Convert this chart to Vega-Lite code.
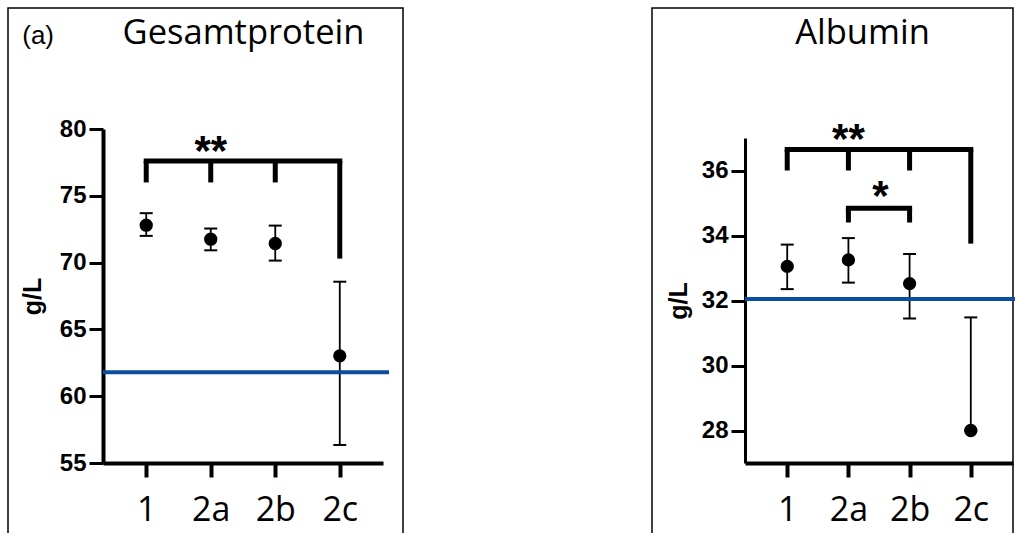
{
  "$schema": "https://vega.github.io/schema/vega-lite/v6.json",
  "background": "white",
  "padding": {"left": 7, "top": 7, "right": 0, "bottom": 0},
  "autosize": {"type": "pad"},
  "spacing": 247,
  "title": {"text": "(a)", "anchor": "start", "frame": "bounds", "orient": "top", "offset": -63, "baseline": "alphabetic", "dx": 15, "font": "Liberation Sans", "fontSize": 26, "fontWeight": "normal", "color": "black"},
  "config": {
    "view": {"stroke": "black", "strokeWidth": 1.5},
    "axis": {"grid": false, "domainColor": "black", "tickColor": "black", "labelColor": "black", "titleColor": "black"}
  },
  "hconcat": [
    {
      "width": 395,
      "height": 540,
      "title": {"text": "Gesamtprotein", "anchor": "middle", "frame": "group", "orient": "top", "offset": -70, "baseline": "alphabetic", "dx": 38, "font": "Open Sans", "fontSize": 34.5, "fontWeight": "normal", "color": "black"},
      "resolve": {"scale": {"x": "independent"}},
      "layer": [
        {
          "layer": [
            {
              "data": {"values": [
                {"group": "1", "mean": 72.8, "lo": 72.0, "hi": 73.7},
                {"group": "2a", "mean": 71.75, "lo": 70.92, "hi": 72.55},
                {"group": "2b", "mean": 71.43, "lo": 70.15, "hi": 72.77},
                {"group": "2c", "mean": 63.02, "lo": 56.35, "hi": 68.57}
              ]},
              "layer": [
                {
                  "mark": {"type": "rule", "color": "black", "strokeWidth": 1.8},
                  "encoding": {
                    "x": {"field": "group", "type": "nominal", "sort": null,
                      "scale": {"type": "point", "domain": ["1", "2a", "2b", "2c"], "range": [95, 375], "padding": 0.67},
                      "axis": {"orient": "bottom", "offset": -85, "title": null, "labelAngle": 0, "domainWidth": 4, "tickWidth": 4, "tickSize": 14, "labelFont": "Open Sans", "labelFontSize": 34, "labelPadding": 16}},
                    "y": {"field": "lo", "type": "quantitative",
                      "scale": {"domain": [55, 80], "range": [455, 121], "nice": false, "zero": false},
                      "axis": {"orient": "left", "offset": -95, "values": [55, 60, 65, 70, 75, 80], "domainWidth": 4, "tickWidth": 3, "tickSize": 14, "labelFont": "Liberation Sans", "labelFontWeight": "bold", "labelFontSize": 24, "labelPadding": 3, "title": "g/L", "titleFont": "Liberation Sans", "titleFontSize": 25, "titleFontWeight": "bold", "titlePadding": 14}},
                    "y2": {"field": "hi"}
                  }
                },
                {
                  "mark": {"type": "tick", "color": "black", "size": 13, "thickness": 2, "opacity": 1},
                  "encoding": {"x": {"field": "group", "type": "nominal"}, "y": {"field": "hi", "type": "quantitative"}}
                },
                {
                  "mark": {"type": "tick", "color": "black", "size": 13, "thickness": 2, "opacity": 1},
                  "encoding": {"x": {"field": "group", "type": "nominal"}, "y": {"field": "lo", "type": "quantitative"}}
                },
                {
                  "mark": {"type": "circle", "color": "black", "size": 177, "opacity": 1},
                  "encoding": {"x": {"field": "group", "type": "nominal"}, "y": {"field": "mean", "type": "quantitative"}}
                }
              ]
            },
            {
              "data": {"values": [{"from": "1", "to": "2c", "y": 77.6}]},
              "mark": {"type": "rule", "color": "black", "strokeWidth": 5, "strokeCap": "square"},
              "encoding": {"x": {"field": "from", "type": "nominal"}, "x2": {"field": "to"}, "y": {"field": "y", "type": "quantitative"}}
            },
            {
              "data": {"values": [
                {"group": "1", "bottom": 76.0, "top": 77.6},
                {"group": "2a", "bottom": 76.0, "top": 77.6},
                {"group": "2b", "bottom": 76.0, "top": 77.6},
                {"group": "2c", "bottom": 70.3, "top": 77.6}
              ]},
              "mark": {"type": "rule", "color": "black", "strokeWidth": 5},
              "encoding": {"x": {"field": "group", "type": "nominal"}, "y": {"field": "bottom", "type": "quantitative"}, "y2": {"field": "top"}}
            },
            {
              "data": {"values": [{"group": "2a", "y": 79.1, "label": "**"}]},
              "mark": {"type": "text", "color": "black", "font": "Liberation Sans", "fontWeight": "bold", "fontSize": 42, "baseline": "alphabetic", "dy": 24, "letterSpacing": 2},
              "encoding": {"x": {"field": "group", "type": "nominal"}, "y": {"field": "y", "type": "quantitative"}, "text": {"field": "label"}}
            }
          ]
        },
        {
          "data": {"values": [{"ref": 61.8, "start": 0, "end": 1}]},
          "mark": {"type": "rule", "color": "#0B4EA0", "strokeWidth": 4},
          "encoding": {
            "x": {"field": "start", "type": "quantitative", "scale": {"domain": [0, 1], "range": [95, 381]}, "axis": null},
            "x2": {"field": "end"},
            "y": {"field": "ref", "type": "quantitative"}
          }
        }
      ]
    },
    {
      "width": 361,
      "height": 540,
      "title": {"text": "Albumin", "anchor": "middle", "frame": "group", "orient": "top", "offset": -70, "baseline": "alphabetic", "dx": 30, "font": "Open Sans", "fontSize": 34.5, "fontWeight": "normal", "color": "black"},
      "resolve": {"scale": {"x": "independent"}},
      "layer": [
        {
          "layer": [
            {
              "data": {"values": [
                {"group": "1", "mean": 33.05, "lo": 32.35, "hi": 33.72},
                {"group": "2a", "mean": 33.25, "lo": 32.55, "hi": 33.92},
                {"group": "2b", "mean": 32.52, "lo": 31.45, "hi": 33.43},
                {"group": "2c", "mean": 28.0, "lo": 28.0, "hi": 31.48}
              ]},
              "layer": [
                {
                  "mark": {"type": "rule", "color": "black", "strokeWidth": 1.8},
                  "encoding": {
                    "x": {"field": "group", "type": "nominal", "sort": null,
                      "scale": {"type": "point", "domain": ["1", "2a", "2b", "2c"], "range": [93, 361], "padding": 0.69},
                      "axis": {"orient": "bottom", "offset": -85, "title": null, "labelAngle": 0, "domainWidth": 4, "tickWidth": 4, "tickSize": 14, "labelFont": "Open Sans", "labelFontSize": 34, "labelPadding": 16}},
                    "y": {"field": "lo", "type": "quantitative",
                      "scale": {"domain": [27, 37], "range": [455, 130], "nice": false, "zero": false},
                      "axis": {"orient": "left", "offset": -93, "values": [28, 30, 32, 34, 36], "domainWidth": 3, "tickWidth": 3, "tickSize": 14, "labelFont": "Liberation Sans", "labelFontWeight": "bold", "labelFontSize": 24, "labelPadding": 3, "title": "g/L", "titleFont": "Liberation Sans", "titleFontSize": 25, "titleFontWeight": "bold", "titlePadding": 10}},
                    "y2": {"field": "hi"}
                  }
                },
                {
                  "mark": {"type": "tick", "color": "black", "size": 13, "thickness": 2, "opacity": 1},
                  "encoding": {"x": {"field": "group", "type": "nominal"}, "y": {"field": "hi", "type": "quantitative"}}
                },
                {
                  "mark": {"type": "tick", "color": "black", "size": 13, "thickness": 2, "opacity": 1},
                  "encoding": {"x": {"field": "group", "type": "nominal"}, "y": {"field": "lo", "type": "quantitative"}}
                },
                {
                  "mark": {"type": "circle", "color": "black", "size": 177, "opacity": 1},
                  "encoding": {"x": {"field": "group", "type": "nominal"}, "y": {"field": "mean", "type": "quantitative"}}
                }
              ]
            },
            {
              "data": {"values": [
                {"from": "1", "to": "2c", "y": 36.65},
                {"from": "2a", "to": "2b", "y": 34.84}
              ]},
              "mark": {"type": "rule", "color": "black", "strokeWidth": 5, "strokeCap": "square"},
              "encoding": {"x": {"field": "from", "type": "nominal"}, "x2": {"field": "to"}, "y": {"field": "y", "type": "quantitative"}}
            },
            {
              "data": {"values": [
                {"group": "1", "bottom": 36.0, "top": 36.65},
                {"group": "2a", "bottom": 36.0, "top": 36.65},
                {"group": "2b", "bottom": 36.0, "top": 36.65},
                {"group": "2c", "bottom": 33.75, "top": 36.65},
                {"group": "2a", "bottom": 34.4, "top": 34.84},
                {"group": "2b", "bottom": 34.4, "top": 34.84}
              ]},
              "mark": {"type": "rule", "color": "black", "strokeWidth": 5},
              "encoding": {"x": {"field": "group", "type": "nominal"}, "y": {"field": "bottom", "type": "quantitative"}, "y2": {"field": "top"}}
            },
            {
              "data": {"values": [{"group": "2a", "y": 37.28, "label": "**"}]},
              "mark": {"type": "text", "color": "black", "font": "Liberation Sans", "fontWeight": "bold", "fontSize": 42, "baseline": "alphabetic", "dy": 24, "letterSpacing": 2},
              "encoding": {"x": {"field": "group", "type": "nominal"}, "y": {"field": "y", "type": "quantitative"}, "text": {"field": "label"}}
            },
            {
              "data": {"values": [{"group": "2a", "y": 35.52, "label": "*"}]},
              "mark": {"type": "text", "color": "black", "font": "Liberation Sans", "fontWeight": "bold", "fontSize": 42, "baseline": "alphabetic", "dy": 24, "dx": 32},
              "encoding": {"x": {"field": "group", "type": "nominal"}, "y": {"field": "y", "type": "quantitative"}, "text": {"field": "label"}}
            }
          ]
        },
        {
          "data": {"values": [{"ref": 32.05, "start": 0, "end": 1}]},
          "mark": {"type": "rule", "color": "#0B4EA0", "strokeWidth": 4},
          "encoding": {
            "x": {"field": "start", "type": "quantitative", "scale": {"domain": [0, 1], "range": [93, 363]}, "axis": null},
            "x2": {"field": "end"},
            "y": {"field": "ref", "type": "quantitative"}
          }
        }
      ]
    }
  ]
}
